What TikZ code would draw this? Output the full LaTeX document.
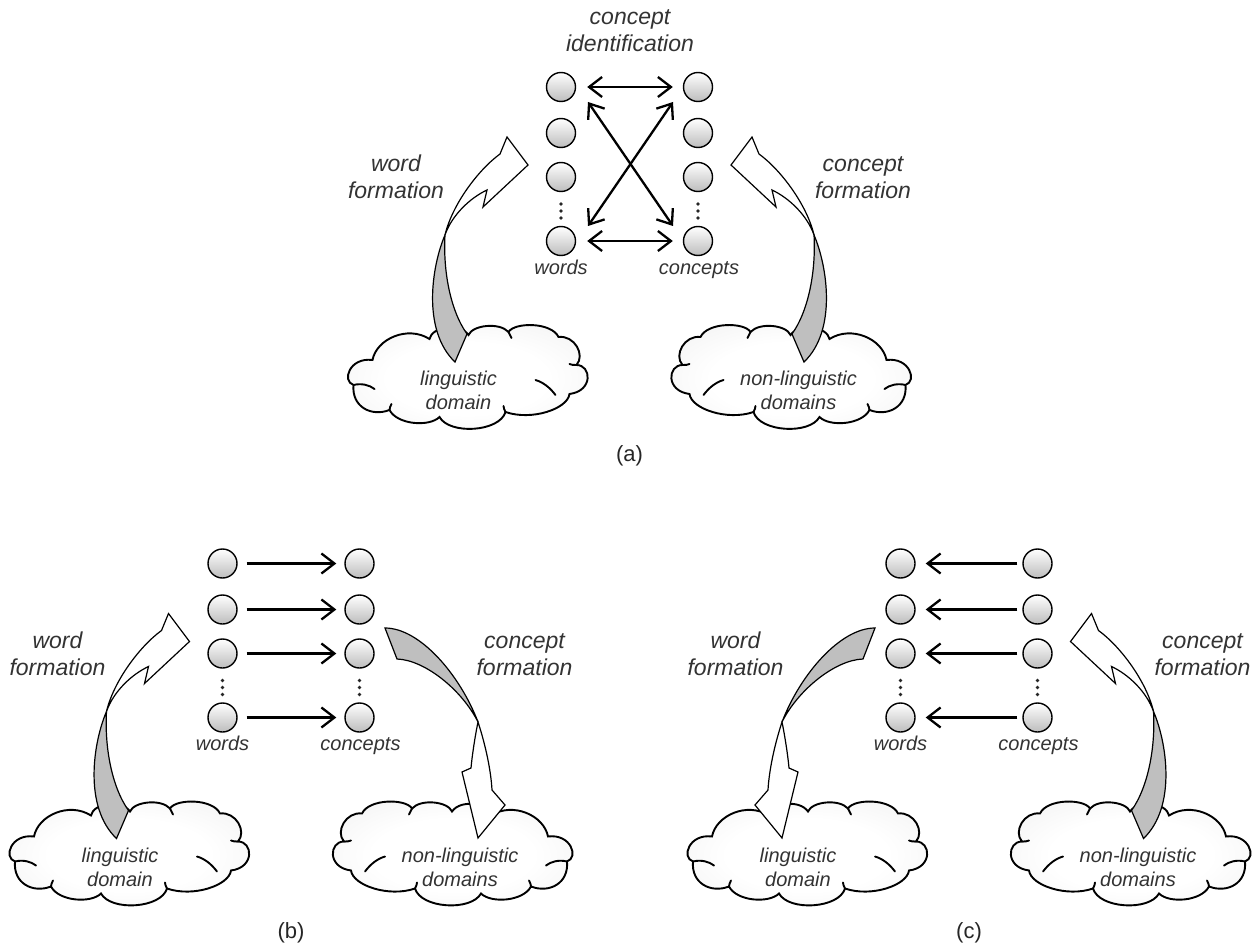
\documentclass[tikz,border=0pt]{standalone}
\usepackage{fontspec}
\setmainfont{Liberation Sans}
\usetikzlibrary{arrows.meta,calc}

% pale radial fill for the clouds: white centre, light grey rim
\pgfdeclareradialshading{cloudglow}{\pgfpoint{0bp}{0bp}}{%
  color(0bp)=(white); color(16bp)=(white); color(36bp)=(black!6); color(50bp)=(black!15)}

\tikzset{
  term/.style={circle, draw=black, line width=1.4pt, minimum size=29pt, inner sep=0pt, top color=white, bottom color=black!26},
  vdot/.style={circle, fill=black!85, inner sep=0pt, minimum size=3.6pt},
  barb/.tip={Straight Barb[length=13pt,width=20pt]},
  oneway/.style={line width=2.3pt, -barb},
  twoway/.style={line width=2.3pt, barb-barb},
  cloudskin/.style={draw=black, line width=1.9pt, shading=cloudglow},
  puffline/.style={line width=1.9pt, line cap=round},
  ribbonfront/.style={fill=white, draw=black, line width=1.2pt, line join=miter},
  ribbonback/.style={fill=black!25, draw=black, line width=1.2pt},
  biglabel/.style={font=\fontsize{23}{27}\selectfont\itshape, text=black!80, align=center, anchor=base, inner sep=0pt},
  smalllabel/.style={font=\fontsize{20}{24}\selectfont\itshape, text=black!80, anchor=base, inner sep=0pt},
  cloudtext/.style={font=\fontsize{20}{24}\selectfont\itshape, text=black!80, align=center, anchor=base, inner sep=0pt},
  caption/.style={font=\fontsize{22}{26}\selectfont, text=black!85, inner sep=0pt},
}

% a cloud of eleven puffs centred on the origin, with its inner strokes
\newcommand\cloudshape{%
  \path[cloudskin] (-116,8)
    .. controls (-128,4) and (-120,-20) .. (-97,-17)
    .. controls (-93,-38) and (-62,-52) .. (-40,-38)
    .. controls (-38,-50) and (-10,-55) .. (-1,-42)
    .. controls (3,-52) and (30,-55) .. (39,-45)
    .. controls (45,-55) and (82,-55) .. (89,-40)
    .. controls (105,-42) and (116,-22) .. (107,-12)
    .. controls (122,-12) and (124,14) .. (100,17)
    .. controls (98,32) and (62,44) .. (36,35)
    .. controls (30,55) and (-20,58) .. (-30,40)
    .. controls (-40,50) and (-72,48) .. (-80,33)
    .. controls (-98,40) and (-118,30) .. cycle;
  \draw[puffline] (-116,8) .. controls (-108,6) and (-100,8) .. (-95,12);
  \draw[puffline] (39,-45) .. controls (40,-43) and (41,-41) .. (42,-39);
  \draw[puffline] (86,18) .. controls (80,10) and (73,5) .. (66,3);
  \draw[puffline] (107,-12) .. controls (104,-12) and (102,-12) .. (100,-13);
  \draw[puffline] (36,35) .. controls (35,33) and (34,31) .. (34,29);
  \draw[puffline] (-80,33) .. controls (-80,31) and (-79,29) .. (-78,27);
}

% curved ribbon arrow rising from the left cloud to the word column
\newcommand\riseArrow{%
  \filldraw[ribbonback] (-184.5,235) .. controls (-197.5,265) and (-208,330) .. (-174.5,362)
     -- (-162.5,334) .. controls (-179.5,310) and (-186.5,270) .. cycle;
  \filldraw[ribbonfront] (-184.5,235) .. controls (-177.5,205) and (-151.5,170) .. (-129.5,154)
     -- (-122.5,137) -- (-101.5,165) -- (-146.5,207) -- (-142.5,190)
     .. controls (-159.5,198) and (-177.5,215) .. cycle;
}

% curved ribbon arrow falling from the concept column into the right cloud
\newcommand\fallArrow{%
  \filldraw[ribbonback] (94,151.5) .. controls (129,151.5) and (169,198.5) .. (187,245.5)
     .. controls (171,213.5) and (134,183.5) .. (106,182.5) -- cycle;
  \filldraw[ribbonfront] (187,245.5) .. controls (195,270) and (200,295) .. (201,313.5)
     -- (214,328.5) -- (187,361.5) -- (171,295.5) -- (180,291.5)
     .. controls (181,280) and (184,260) .. cycle;
}

% clouds, term columns and their labels
\newcommand\panelcore[1]{%
  \begin{scope}[shift={(-160,377)}]\cloudshape\end{scope}
  \begin{scope}[shift={(160,377)}, xscale=-1]\cloudshape\end{scope}
  \node[cloudtext] (#1ldt) at (-171,409.5) {linguistic\\domain};
  \node[cloudtext] (#1ndt) at (169,409.5) {non-linguistic\\domains};
  \foreach \row/\yy in {1/87,2/133,3/177,4/241} {
    \node[term] (#1w\row) at (-68.5,\yy) {};
    \node[term] (#1c\row) at (68.5,\yy) {};
  }
  \foreach \yy in {204,211,218} {
    \node[vdot] (#1wd\yy) at (-68.5,\yy) {};
    \node[vdot] (#1cd\yy) at (68.5,\yy) {};
  }
  \node[smalllabel] (#1wl) at (-68.5,274) {words};
  \node[smalllabel] (#1cl) at (69.5,274) {concepts};
  \node[biglabel] (#1wf) at (-233.5,199) {word\\formation};
  \node[biglabel] (#1cf) at (233.5,199) {concept\\formation};
}

\begin{document}
\begin{tikzpicture}[x=1pt,y=-1pt]
\useasboundingbox (0,0) rectangle (1253,944);

% (a) concept identification
\begin{scope}[shift={(629.5,0)}]
  \panelcore{a}
  \node[biglabel] (aci) at (0.5,52) {concept\\identification};
  \foreach \row in {1,4}
    \draw[twoway, shorten <=11pt, shorten >=10pt] (aw\row) -- (ac\row);
  \draw[twoway] ($(aw1)+(27,15)$) -- ($(ac4)+(-25,-15)$);
  \draw[twoway] ($(aw4)+(27,-15)$) -- ($(ac1)+(-25,15)$);
  \riseArrow
  \begin{scope}[xscale=-1]\riseArrow\end{scope}
  \node[caption] (acap) at (0,456) {(a)};
\end{scope}

% (b) words name concepts
\begin{scope}[shift={(291,476.5)}]
  \panelcore{b}
  \foreach \row in {1,...,4}
    \draw[oneway, shorten <=9pt, shorten >=8pt] (bw\row) -- (bc\row);
  \riseArrow
  \fallArrow
  \node[caption] (bcap) at (0,456) {(b)};
\end{scope}

% (c) concepts call for words
\begin{scope}[shift={(969,476.5)}]
  \panelcore{c}
  \foreach \row in {1,...,4}
    \draw[oneway, shorten <=5pt, shorten >=10pt] (cc\row) -- (cw\row);
  \begin{scope}[xscale=-1]\riseArrow\fallArrow\end{scope}
  \node[caption] (ccap) at (0,456) {(c)};
\end{scope}
\end{tikzpicture}
\end{document}
